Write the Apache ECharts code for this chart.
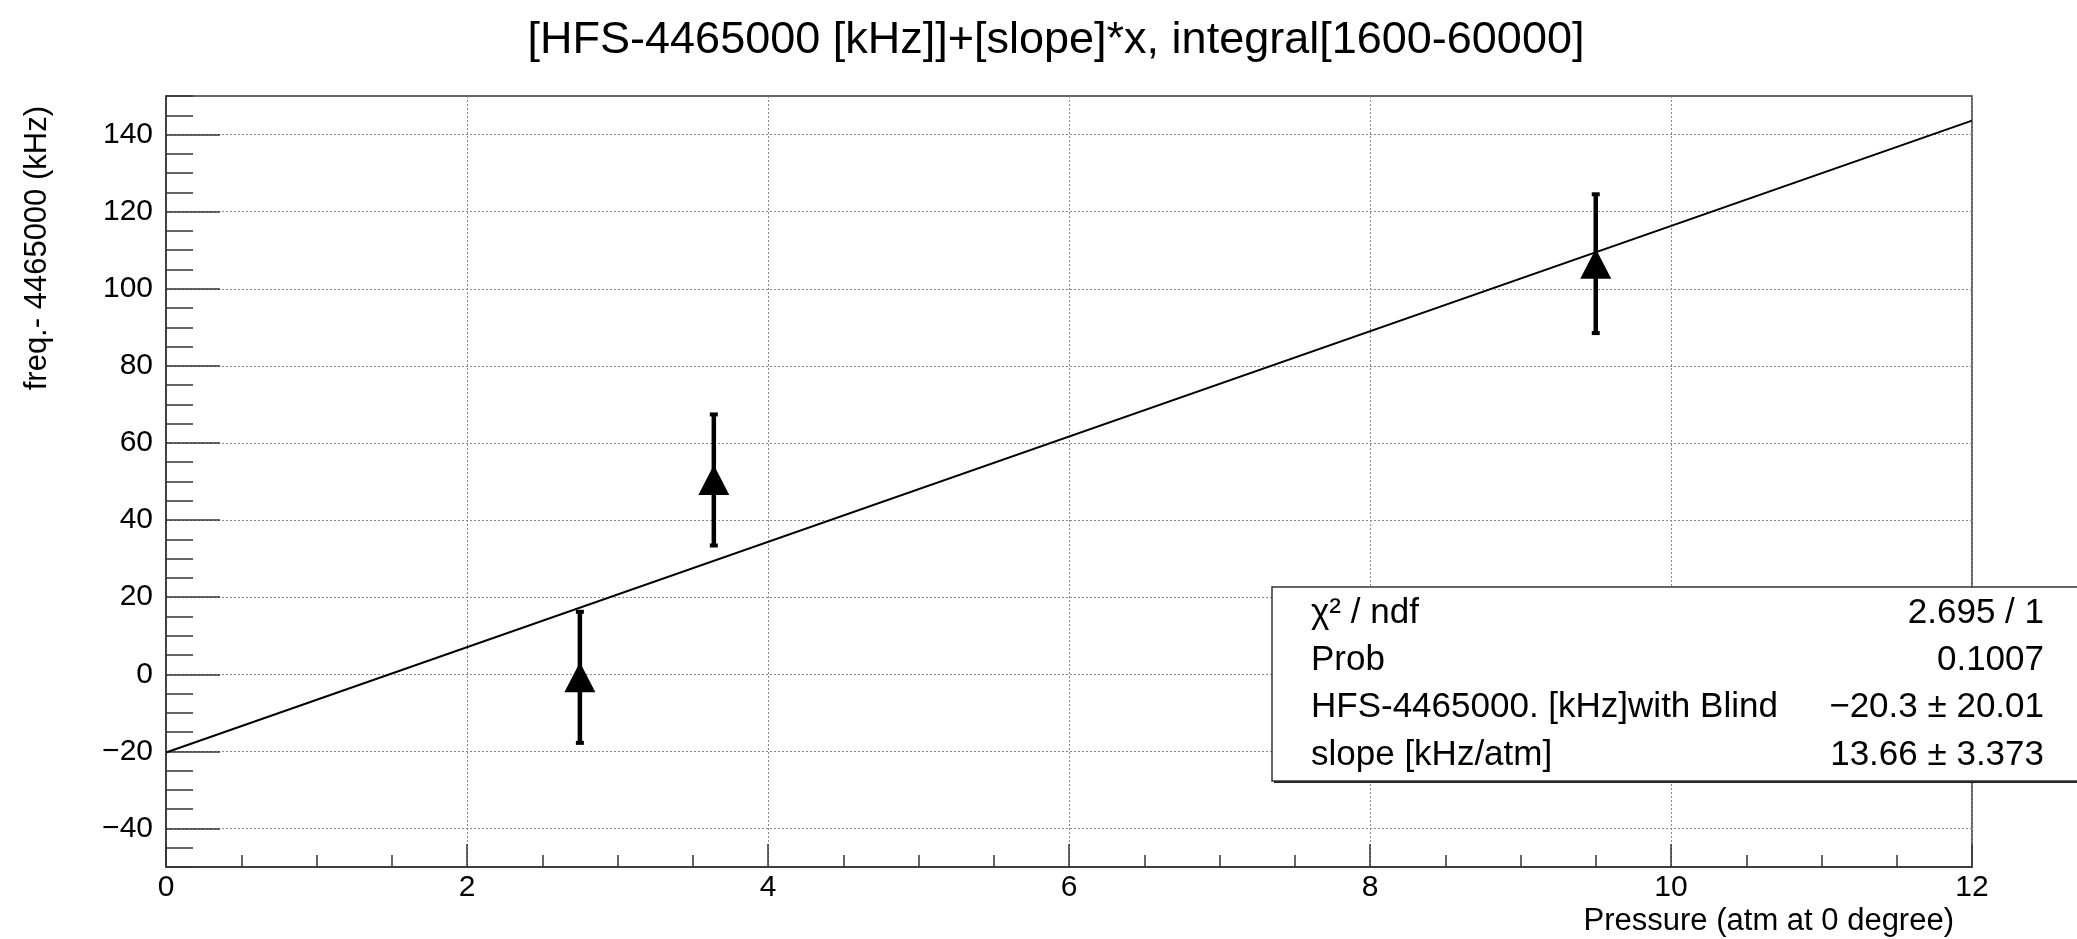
<!DOCTYPE html>
<html>
<head>
<meta charset="utf-8">
<title>HFS fit</title>
<script src="https://cdn.jsdelivr.net/npm/echarts@6/dist/echarts.min.js"></script>
<style>
  html, body { margin: 0; padding: 0; background: #fff; }
  #chart { width: 2077px; height: 939px; }
</style>
</head>
<body>
<div id="chart"></div>
<script>
// Measured points: pressure (atm at 0 degree) vs. frequency shift from 4465000 kHz
const pressure  = [2.75, 3.64, 9.50];
const freqShift = [-0.8, 50.4, 106.5];
const freqError = [17.0, 17.0, 18.0];

// Linear fit result: offset + slope * x
const fitParNames  = ['HFS-4465000. [kHz]with Blind', 'slope [kHz/atm]'];
const fitParValues = [-20.3, 13.66];
const fitParErrors = [20.01, 3.373];
const chi2 = '2.695', ndf = 1, prob = '0.1007';

// Axis ranges and tick steps
const xRange = [0, 12], xStep = 2, xMinorSplit = 4;
const yRange = [-50, 150], yMinorStep = 5;
const yMajorRange = [-40, 140], yMajorStep = 20;

const titleText = '[HFS-4465000 [kHz]]+[slope]*x, integral[1600-60000]';
const xTitle = 'Pressure (atm at 0 degree)';
const yTitle = 'freq.- 4465000 (kHz)';

const FONT = '"Liberation Sans", Arial, Helvetica, sans-serif';
const FRAME = '#333';
const GRIDLINE = { color: '#888', width: 1, type: [2, 2] };

const points = pressure.map((x, i) => [x, freqShift[i], freqError[i]]);
const fitLine = xRange.map(x => [x, fitParValues[0] + fitParValues[1] * x]);

const minus = v => String(v).replace('-', '\u2212');
const statLabels = ['\u03C7\u00B2 / ndf', 'Prob', fitParNames[0], fitParNames[1]];
const statValues = [
  chi2 + ' / ' + ndf,
  prob,
  minus(fitParValues[0]) + ' \u00B1 ' + fitParErrors[0],
  minus(fitParValues[1]) + ' \u00B1 ' + fitParErrors[1]
];

const chart = echarts.init(document.getElementById('chart'), null, { renderer: 'canvas' });

const plot = { left: 166, right: 105, top: 96, bottom: 72 };

const option = {
  animation: false,
  backgroundColor: '#fff',
  textStyle: { fontFamily: FONT },
  title: {
    text: titleText,
    left: 1051, top: 13, textAlign: 'center',
    textStyle: { fontFamily: FONT, fontSize: 45, fontWeight: 'normal', color: '#000' }
  },
  grid: [
    Object.assign({ show: true, borderColor: FRAME, borderWidth: 1.5, containLabel: false }, plot),
    // overlay grid spanning the labelled y range, filled in once the main scale exists
    Object.assign({ show: false, containLabel: false }, plot)
  ],
  xAxis: [
    {
      type: 'value', gridIndex: 0,
      min: xRange[0], max: xRange[1], interval: xStep,
      axisLine: { show: true, onZero: false, lineStyle: { color: FRAME, width: 1.5 } },
      axisTick: { show: true, inside: true, length: 23, lineStyle: { color: FRAME, width: 1.5 } },
      minorTick: { show: true, splitNumber: xMinorSplit, length: 12, lineStyle: { color: FRAME, width: 1.5 } },
      axisLabel: { show: true, margin: 6, fontSize: 30, color: '#000', fontFamily: FONT },
      splitLine: { show: true, lineStyle: GRIDLINE }
    },
    {
      type: 'value', gridIndex: 1, show: false,
      min: xRange[0], max: xRange[1],
      axisLine: { onZero: false }
    }
  ],
  yAxis: [
    {
      type: 'value', gridIndex: 0,
      min: yRange[0], max: yRange[1], interval: yMinorStep,
      axisLine: { show: true, onZero: false, lineStyle: { color: FRAME, width: 1.5 } },
      axisTick: { show: true, inside: true, length: 27, lineStyle: { color: FRAME, width: 1.5 } },
      axisLabel: { show: false },
      splitLine: { show: false }
    },
    {
      type: 'value', gridIndex: 1,
      min: yMajorRange[0], max: yMajorRange[1], interval: yMajorStep,
      axisLine: { show: false, onZero: false },
      axisTick: { show: true, inside: true, length: 54, lineStyle: { color: FRAME, width: 1.5 } },
      axisLabel: { show: true, margin: 13, fontSize: 30, color: '#000', fontFamily: FONT, formatter: v => minus(v) },
      splitLine: { show: true, lineStyle: GRIDLINE }
    }
  ],
  series: [
    {
      name: 'fit', type: 'line', xAxisIndex: 0, yAxisIndex: 0,
      data: fitLine, symbol: 'none', silent: true,
      lineStyle: { color: '#000', width: 2 }, z: 3
    },
    {
      name: 'errors', type: 'custom', xAxisIndex: 0, yAxisIndex: 0,
      data: points, z: 4, silent: true,
      renderItem: (params, api) => {
        const x = api.value(0), y = api.value(1), e = api.value(2);
        const hi = api.coord([x, y + e]);
        const lo = api.coord([x, y - e]);
        return {
          type: 'group',
          children: [
            { type: 'line', shape: { x1: hi[0], y1: hi[1], x2: lo[0], y2: lo[1] }, style: { stroke: '#000', lineWidth: 4.5 } },
            { type: 'rect', shape: { x: hi[0] - 4, y: hi[1] - 2, width: 8, height: 4 }, style: { fill: '#000' } },
            { type: 'rect', shape: { x: lo[0] - 4, y: lo[1] - 2, width: 8, height: 4 }, style: { fill: '#000' } }
          ]
        };
      }
    },
    {
      name: 'data', type: 'scatter', xAxisIndex: 0, yAxisIndex: 0,
      data: points.map(p => [p[0], p[1]]),
      symbol: 'triangle', symbolSize: [31, 30],
      itemStyle: { color: '#000', opacity: 1 }, z: 5, silent: true
    }
  ]
};

chart.setOption(option);

// place the labelled-axis grid so its ends sit on the main scale
const yTopPx = chart.convertToPixel({ yAxisIndex: 0 }, yMajorRange[1]);
const yBotPx = chart.convertToPixel({ yAxisIndex: 0 }, yMajorRange[0]);
const H = chart.getHeight(), W = chart.getWidth();

const statBox = { left: 1272, top: 587, height: 194, rowY: [613, 660, 707, 755], labelX: 1311, valueX: 2044 };
const statChildren = [
  { type: 'rect', shape: { x: statBox.left + 2, y: statBox.top + 2, width: W, height: statBox.height }, style: { fill: '#222' }, z: 10 },
  { type: 'rect', shape: { x: statBox.left, y: statBox.top, width: W, height: statBox.height }, style: { fill: '#fff', stroke: FRAME, lineWidth: 1.5 }, z: 11 }
];
statLabels.forEach((t, i) => {
  statChildren.push({ type: 'text', x: statBox.labelX, y: statBox.rowY[i], z: 12,
    style: { text: t, fontSize: 35, fontFamily: FONT, fill: '#000', align: 'left', verticalAlign: 'middle' } });
  statChildren.push({ type: 'text', x: statBox.valueX, y: statBox.rowY[i], z: 12,
    style: { text: statValues[i], fontSize: 35, fontFamily: FONT, fill: '#000', align: 'right', verticalAlign: 'middle' } });
});

chart.setOption({
  grid: [{}, { top: yTopPx, bottom: H - yBotPx }],
  graphic: [
    { type: 'group', children: statChildren },
    { type: 'text', x: 1954, y: 921, z: 12,
      style: { text: xTitle, fontSize: 31, fontFamily: FONT, fill: '#000', align: 'right', verticalAlign: 'middle' } },
    { type: 'text', x: 37, y: 106, rotation: Math.PI / 2, z: 12,
      style: { text: yTitle, fontSize: 31, fontFamily: FONT, fill: '#000', align: 'right', verticalAlign: 'middle' } }
  ]
});
</script>
</body>
</html>
